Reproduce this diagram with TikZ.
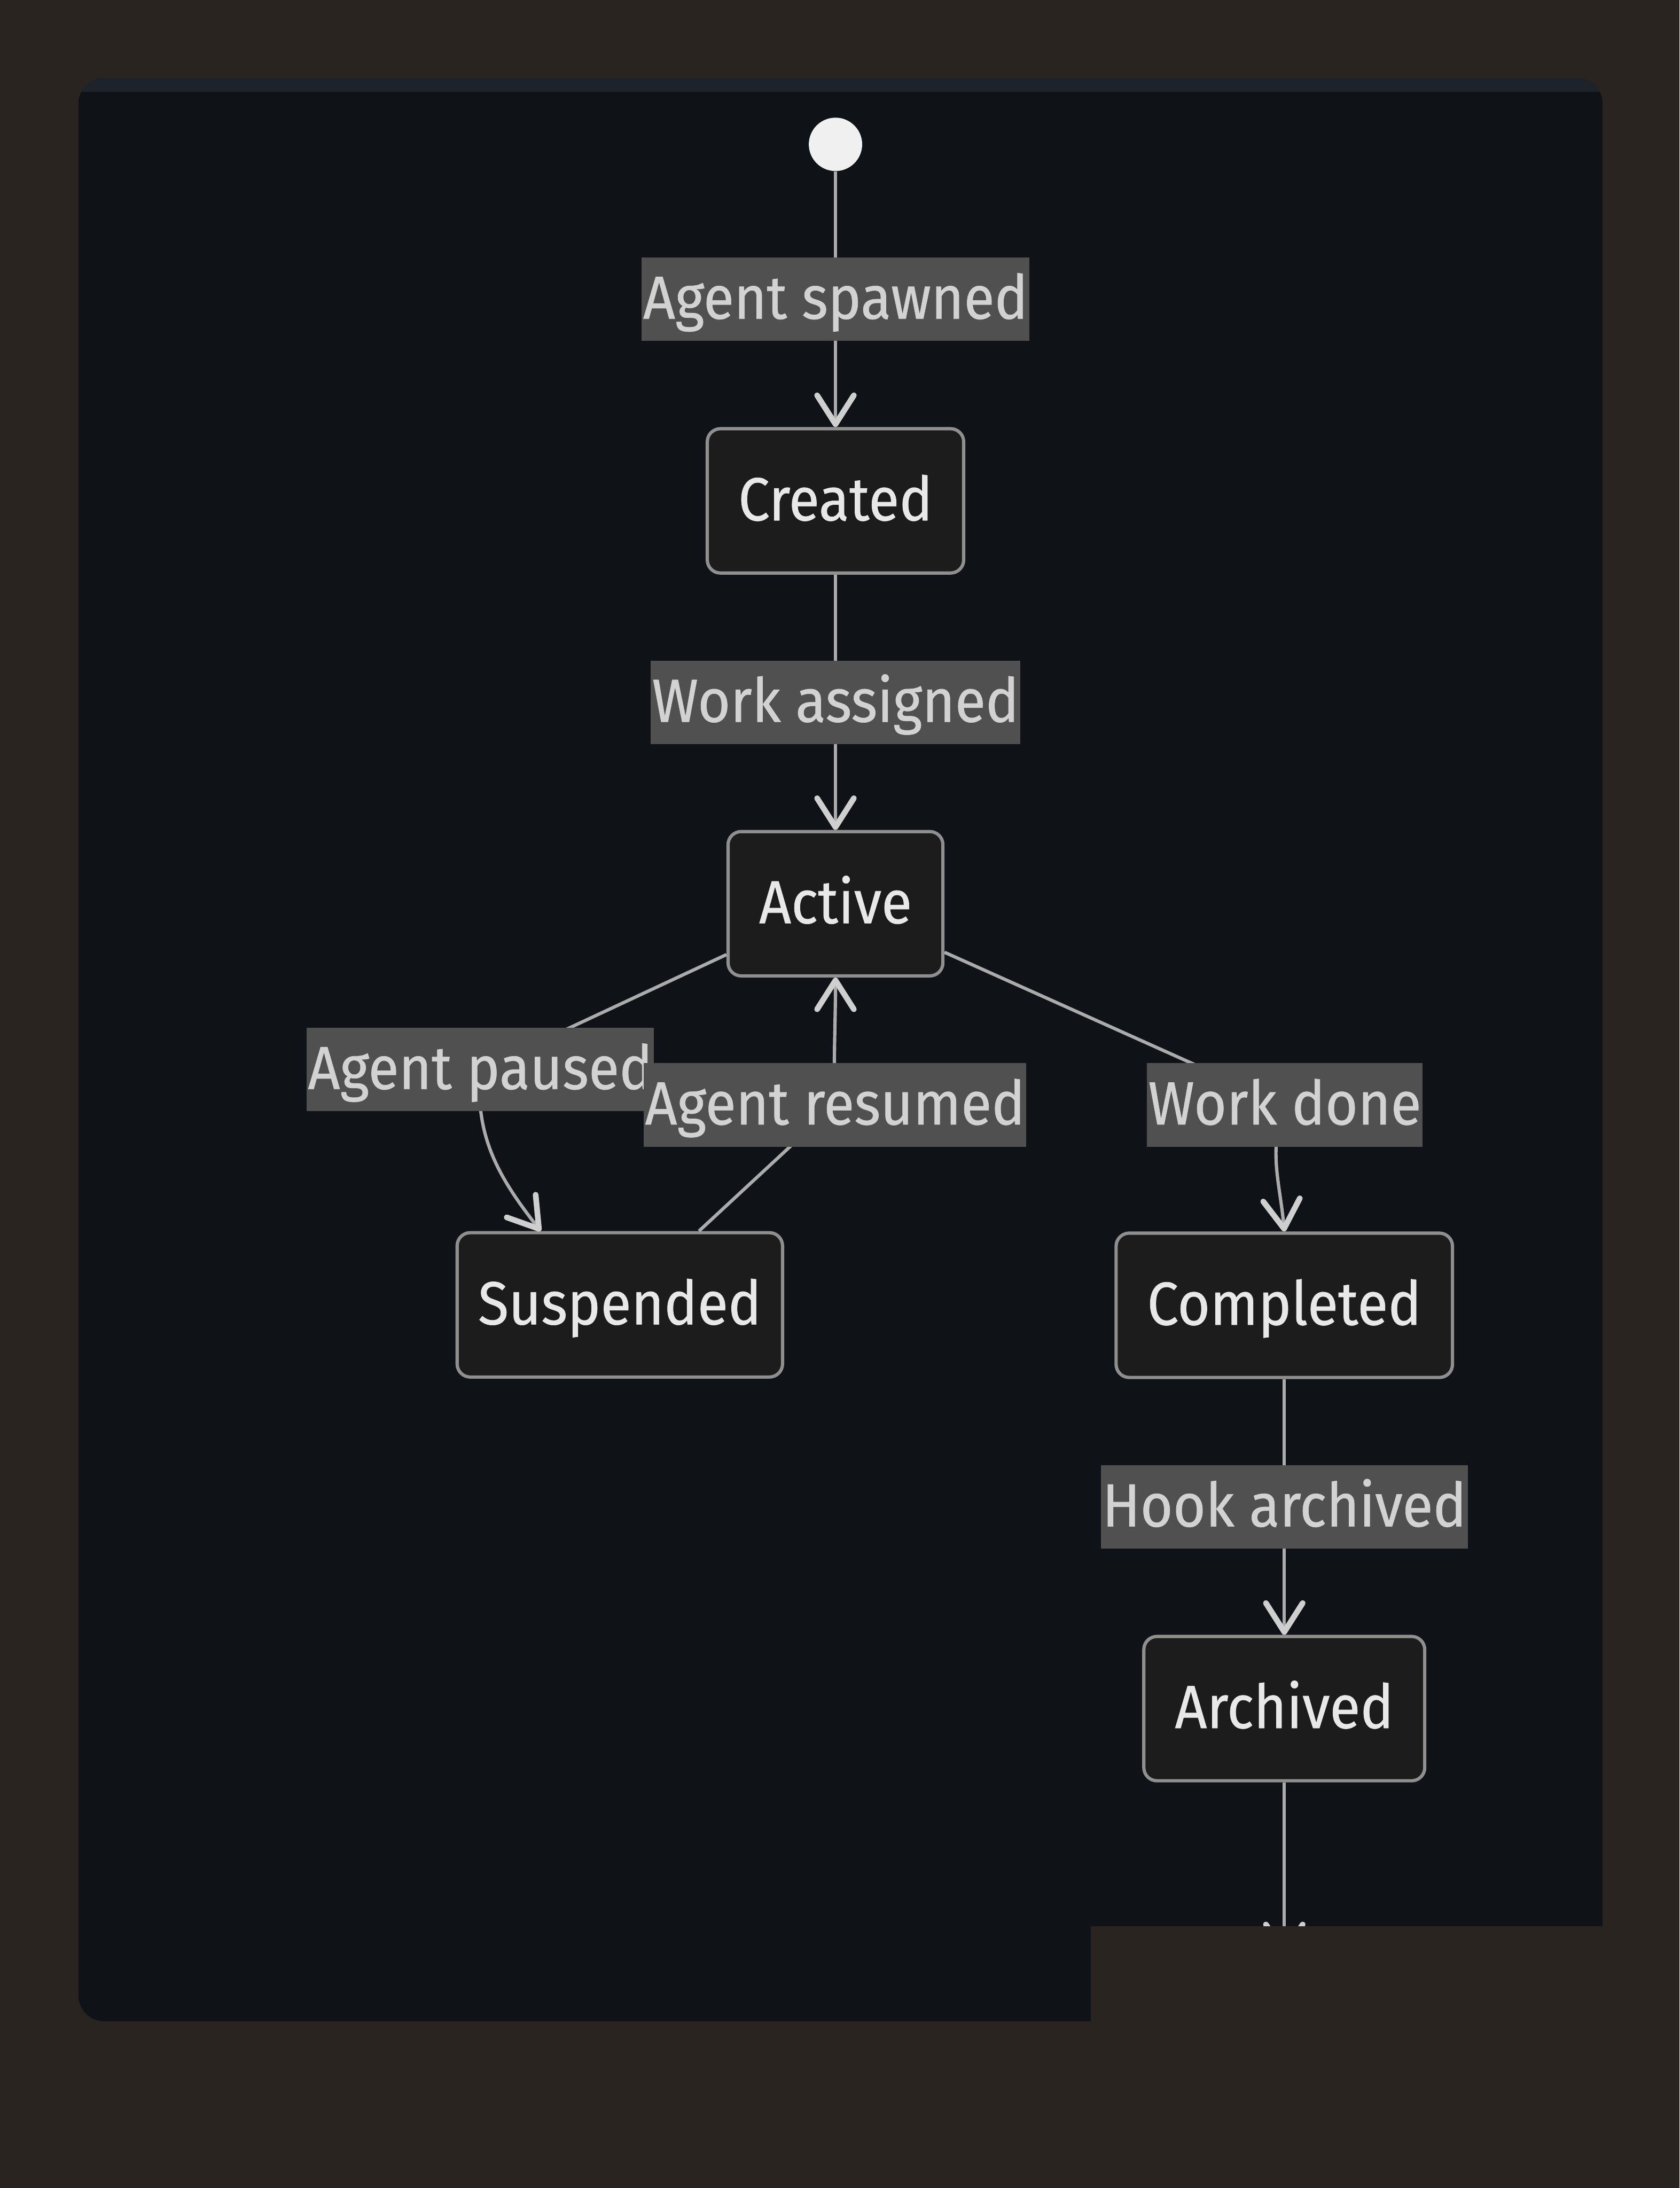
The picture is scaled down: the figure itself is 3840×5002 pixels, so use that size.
\documentclass[tikz,border=0pt]{standalone}
\usepackage{fontspec}
\setmainfont{Fira Sans}[FakeStretch=0.92, FakeBold=0.6]
\usetikzlibrary{arrows.meta}

\definecolor{pagebg}{HTML}{2A2420}
\definecolor{panelbg}{HTML}{0F1217}
\definecolor{panelstrip}{HTML}{1E222A}
\definecolor{statefill}{HTML}{1C1C1C}
\definecolor{stateborder}{HTML}{8F8F8F}
\definecolor{statetext}{HTML}{E8E8E8}
\definecolor{labelfill}{HTML}{505050}
\definecolor{labeltext}{HTML}{D2D2D2}
\definecolor{edgeline}{HTML}{ABABAB}
\definecolor{arrowtip}{HTML}{CFCFCF}
\definecolor{startfill}{HTML}{F0F0F0}

\begin{document}
\begin{tikzpicture}[
    x=0.1mm,
    y=0.1mm,
    every node/.style={font=\fontsize{39.6}{46}\selectfont},
    statebox/.style={draw=stateborder, fill=statefill, text=statetext, line width=0.75mm,
        rounded corners=3mm, minimum height=33mm, inner xsep=7.1mm,
        text height=32.5pt, text depth=7.1pt},
    elabel/.style={fill=labelfill, text=labeltext, minimum height=19.1mm,
        inner xsep=0.3mm, inner ysep=0pt, text height=32.5pt, text depth=7.1pt},
    startdot/.style={circle, fill=startfill, minimum size=12.2mm, inner sep=0pt},
    trans/.style={draw=edgeline, line width=0.75mm,
        -{Straight Barb[length=6.6mm, width=8.4mm, line width=1.3mm, round, color=arrowtip]}}
]

    \useasboundingbox (0,0) rectangle (3840,-5002);
    \fill[pagebg] (0,0) rectangle (3840,-5002);

    \begin{scope}
        \clip[rounded corners=6mm] (179,-178) rectangle (3664,-4621);
        \fill[panelbg] (179,-178) rectangle (3664,-4621);
        \fill[panelstrip] (179,-178) rectangle (3664,-210);
    \end{scope}

    \node[startdot] (start) at (1910,-330) {};
    \node[statebox] (created) at (1910,-1145) {Created};
    \node[statebox] (active) at (1910,-2066) {Active};
    \node[statebox, inner xsep=4.8mm] (suspended) at (1417,-2983) {Suspended};
    \node[statebox] (completed) at (2936,-2984) {Completed};
    \node[statebox] (archived) at (2936,-3906) {Archived};
    \coordinate (endtip) at (2936,-4472);

    \draw[trans] (start) -- node[elabel] {Agent spawned} (created);
    \draw[trans] (created) -- node[elabel] {Work assigned} (active);
    \draw[trans] (active.205) -- (1098,-2445) node[elabel] {Agent paused}
        to[out=-95, in=128] (suspended.137);
    \draw[trans] (suspended.43) -- (1909,-2526) node[elabel] {Agent resumed}
        to[out=92, in=-90] (active.south);
    \draw[trans] (active.336) -- (2937,-2526) node[elabel] {Work done}
        to[out=-110, in=95] (completed.north);
    \draw[trans] (completed) -- node[elabel] {Hook archived} (archived);
    \draw[trans] (archived) -- (endtip);

    \fill[pagebg] (2494,-4404) rectangle (3840,-5002);

\end{tikzpicture}
\end{document}
